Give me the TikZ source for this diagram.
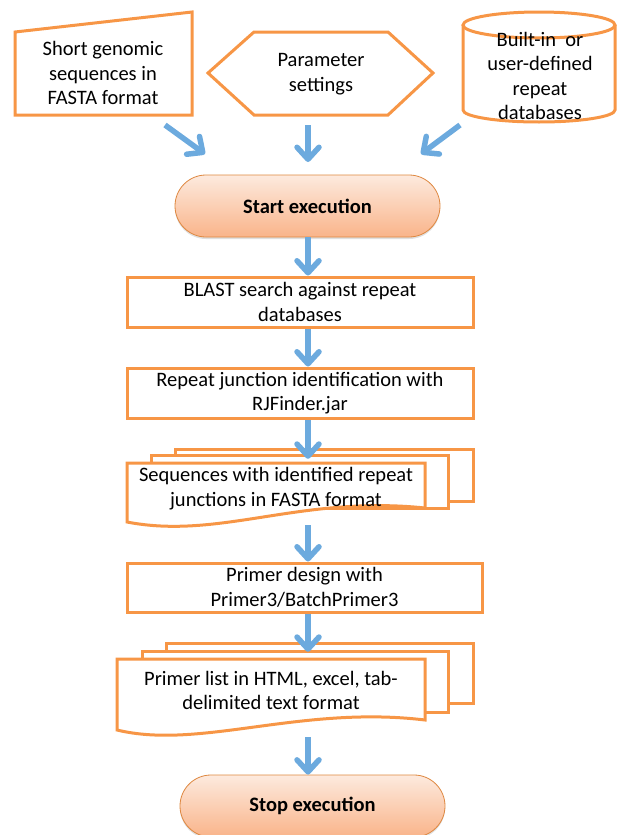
\documentclass[tikz,border=0pt]{standalone}
\usepackage{fontspec}
\setmainfont{Carlito}
\usetikzlibrary{arrows.meta,shadows}
\definecolor{boxorange}{RGB}{247,150,70}
\definecolor{flowblue}{RGB}{108,170,222}
\definecolor{pilltop}{RGB}{253,234,222}
\definecolor{pillbot}{RGB}{249,180,138}
\tikzset{
    outline/.style={draw=boxorange,line width=3pt,fill=white},
    txt/.style={font=\fontsize{20.5}{24.5}\selectfont,align=center,inner sep=0pt},
    procbox/.style={outline,txt},
    pill/.style={draw=boxorange!90!black,line width=0.8pt,rounded corners=31pt,
        minimum width=265pt,minimum height=62pt,top color=pilltop,bottom color=pillbot,
        font=\fontsize{20.5}{24.5}\selectfont\bfseries,
        drop shadow={shadow xshift=0pt,shadow yshift=-2pt,opacity=0.25,fill=black!50}},
    flow/.style={draw=flowblue,line width=5.5pt,-{Straight Barb[length=12pt,width=22pt,round]}},
}

\begin{document}
\begin{tikzpicture}[x=1pt,y=-1pt]
    \useasboundingbox (0,0) rectangle (616,835);
    % inputs
    \draw[outline] (15,32) -- (192,12) -- (192,115) -- (15,115) -- cycle;
    \node[txt] (seq) at (103,73) {Short genomic\\sequences in\\FASTA format};
    \draw[outline] (208,73) -- (254,32) -- (388,32) -- (433,73) -- (388,115) -- (254,115) -- cycle;
    \node[txt] (param) at (321,74) {Parameter\\settings};
    \draw[outline] (463,25) -- (463,110) arc[start angle=180,end angle=360,x radius=76pt,y radius=12pt] -- (615,25);
    \draw[outline] (539,25) ellipse[x radius=76pt,y radius=13pt];
    \node[txt] (repdb) at (540,76) {Built-in~ or\\user-defined\\repeat\\databases};
    \coordinate (seqarr) at (165,125); \coordinate (seqend) at (205,154);
    \coordinate (pararr) at (308,125); \coordinate (parend) at (308,162);
    \coordinate (dbarr) at (460,125); \coordinate (dbend) at (421,154);
    \draw[flow] (seqarr) -- (seqend);
    \draw[flow] (pararr) -- (parend);
    \draw[flow] (dbarr) -- (dbend);

    % pipeline
    \node[pill] (start) at (307.5,206) {Start execution};
    \node[procbox,minimum width=346pt,minimum height=50pt] (blast) at (300,302) {BLAST search against repeat\\databases};
    \node[procbox,minimum width=346pt,minimum height=50pt] (rjf) at (300,393) {Repeat junction identification with\\RJFinder.jar};
    \draw[outline] (175,449) rectangle (473,501);
    \draw[outline] (151,455) rectangle (448,508);
    \draw[outline] (127,463) -- (425,463) -- (425,508) .. controls (300,495) and (220,540) .. (127,522) -- cycle;
    \node[txt,minimum width=298pt,minimum height=51pt] (seqdoc) at (276,488.5) {Sequences with identified repeat\\junctions in FASTA format};
    \node[procbox,minimum width=355pt,minimum height=49pt] (design) at (304.5,587.5) {Primer design with\\Primer3/BatchPrimer3};
    \draw[outline] (166,643) rectangle (473,703);
    \draw[outline] (142,651) rectangle (448,712);
    \draw[outline] (117,659) -- (425,659) -- (425,720) .. controls (300,705) and (200,750) .. (117,730) -- cycle;
    \node[txt,minimum width=308pt,minimum height=63pt] (primdoc) at (271,690.5) {Primer list in HTML, excel, tab-\\delimited text format};
    \node[pill] (stop) at (312.5,806) {Stop execution};

    \coordinate (axis) at (308,0);
    \draw[flow] (start.south -| axis) -- (blast.north -| axis);
    \draw[flow] (blast.south -| axis) -- (rjf.north -| axis);
    \draw[flow] (rjf.south -| axis) -- ([yshift=4pt]seqdoc.north -| axis);
    \draw[flow] ([yshift=-11pt]seqdoc.south -| axis) -- (design.north -| axis);
    \draw[flow] (design.south -| axis) -- ([yshift=7pt]primdoc.north -| axis);
    \draw[flow] ([yshift=-15pt]primdoc.south -| axis) -- (stop.north -| axis);
\end{tikzpicture}
\end{document}
